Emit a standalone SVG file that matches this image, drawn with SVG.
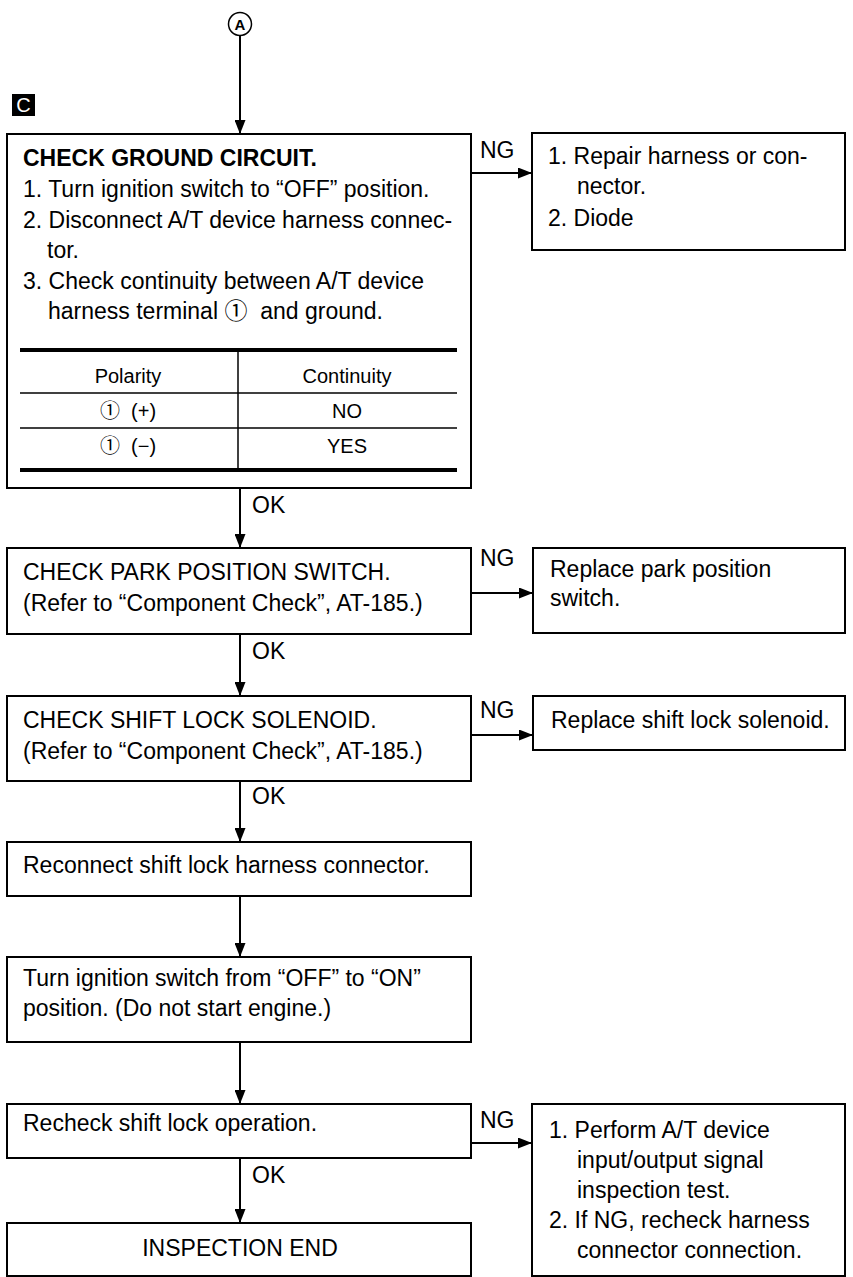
<svg xmlns="http://www.w3.org/2000/svg" width="853" height="1277" viewBox="0 0 853 1277">
<defs>
<style>
.box{fill:#fff;stroke:#000;stroke-width:2}
.t{font-family:"Liberation Sans","Noto Sans CJK JP",Arial,sans-serif;font-size:23px;fill:#000}
.b{font-weight:bold}
.tb{font-family:"Liberation Sans","Noto Sans CJK JP",Arial,sans-serif;font-size:20px;fill:#000}
.c{text-anchor:middle}
.ln{stroke:#000;stroke-width:2;fill:none}
.thick{stroke:#000;stroke-width:4}
.thin{stroke:#000;stroke-width:1.5}
</style>
<marker id="ah" viewBox="0 0 14 11" refX="14" refY="5.5" markerWidth="14" markerHeight="11" markerUnits="userSpaceOnUse" orient="auto">
<path d="M0,0 L14,5.5 L0,11 Z" fill="#000"/>
</marker>
</defs>
<rect width="853" height="1277" fill="#fff"/>

<g id="start">
<circle cx="240" cy="24" r="11.5" fill="#fff" stroke="#000" stroke-width="1.5"/>
<text x="240" y="30" class="t b c" style="font-size:15px">A</text>
</g>

<g id="label-c">
<rect x="12" y="94" width="23" height="22" fill="#000"/>
<text x="23.5" y="112" class="t c" style="font-size:20px;fill:#fff">C</text>
</g>

<g id="connectors">
<line x1="240" y1="36" x2="240" y2="134" class="ln" marker-end="url(#ah)"/>
<line x1="471" y1="173" x2="532" y2="173" class="ln" marker-end="url(#ah)"/>
<text x="480" y="158" class="t">NG</text>
<line x1="240" y1="488" x2="240" y2="548" class="ln" marker-end="url(#ah)"/>
<text x="252" y="513" class="t">OK</text>
<line x1="471" y1="593" x2="533" y2="593" class="ln" marker-end="url(#ah)"/>
<text x="480" y="566" class="t">NG</text>
<line x1="240" y1="634" x2="240" y2="696" class="ln" marker-end="url(#ah)"/>
<text x="252" y="659" class="t">OK</text>
<line x1="471" y1="735" x2="533" y2="735" class="ln" marker-end="url(#ah)"/>
<text x="480" y="718" class="t">NG</text>
<line x1="240" y1="781" x2="240" y2="842" class="ln" marker-end="url(#ah)"/>
<text x="252" y="804" class="t">OK</text>
<line x1="240" y1="896" x2="240" y2="957" class="ln" marker-end="url(#ah)"/>
<line x1="240" y1="1042" x2="240" y2="1104" class="ln" marker-end="url(#ah)"/>
<line x1="471" y1="1143" x2="532" y2="1143" class="ln" marker-end="url(#ah)"/>
<text x="480" y="1128" class="t">NG</text>
<line x1="240" y1="1158" x2="240" y2="1223" class="ln" marker-end="url(#ah)"/>
<text x="252" y="1183" class="t">OK</text>
</g>

<g id="check-ground">
<rect x="7" y="134" width="464" height="354" class="box"/>
<text x="23" y="166" class="t b">CHECK GROUND CIRCUIT.</text>
<text x="23" y="197" class="t">1. Turn ignition switch to “OFF” position.</text>
<text x="23" y="228" class="t">2. Disconnect A/T device harness connec-</text>
<text x="47" y="258" class="t">tor.</text>
<text x="23" y="289" class="t">3. Check continuity between A/T device</text>
<text x="48" y="319" class="t" xml:space="preserve">harness terminal ①  and ground.</text>
<line x1="20" y1="350" x2="457" y2="350" class="thick"/>
<line x1="20" y1="393" x2="457" y2="393" class="thin"/>
<line x1="20" y1="428" x2="457" y2="428" class="thin"/>
<line x1="20" y1="470" x2="457" y2="470" class="thick"/>
<line x1="238" y1="350" x2="238" y2="470" class="thin"/>
<text x="128" y="383" class="tb c">Polarity</text>
<text x="347" y="383" class="tb c">Continuity</text>
<text x="128" y="418" class="tb c" xml:space="preserve">①  (+)</text>
<text x="347" y="418" class="tb c">NO</text>
<text x="128" y="453" class="tb c" xml:space="preserve">①  (−)</text>
<text x="347" y="453" class="tb c">YES</text>
</g>

<g id="repair-harness">
<rect x="532" y="133" width="313" height="117" class="box"/>
<text x="548" y="164" class="t">1. Repair harness or con-</text>
<text x="577" y="194" class="t">nector.</text>
<text x="548" y="226" class="t">2. Diode</text>
</g>

<g id="check-park">
<rect x="7" y="548" width="464" height="86" class="box"/>
<text x="23" y="580" class="t">CHECK PARK POSITION SWITCH.</text>
<text x="23" y="611" class="t">(Refer to “Component Check”, AT-185.)</text>
</g>

<g id="replace-park">
<rect x="533" y="548" width="312" height="85" class="box"/>
<text x="550" y="577" class="t">Replace park position</text>
<text x="550" y="606" class="t">switch.</text>
</g>

<g id="check-solenoid">
<rect x="7" y="696" width="464" height="85" class="box"/>
<text x="23" y="728" class="t">CHECK SHIFT LOCK SOLENOID.</text>
<text x="23" y="759" class="t">(Refer to “Component Check”, AT-185.)</text>
</g>

<g id="replace-solenoid">
<rect x="533" y="696" width="312" height="54" class="box"/>
<text x="551" y="728" class="t">Replace shift lock solenoid.</text>
</g>

<g id="reconnect">
<rect x="7" y="842" width="464" height="54" class="box"/>
<text x="23" y="873" class="t">Reconnect shift lock harness connector.</text>
</g>

<g id="turn-ignition">
<rect x="7" y="957" width="464" height="85" class="box"/>
<text x="23" y="986" class="t">Turn ignition switch from “OFF” to “ON”</text>
<text x="23" y="1016" class="t">position. (Do not start engine.)</text>
</g>

<g id="recheck">
<rect x="7" y="1104" width="464" height="54" class="box"/>
<text x="23" y="1131" class="t">Recheck shift lock operation.</text>
</g>

<g id="perform-test">
<rect x="532" y="1104" width="313" height="172" class="box"/>
<text x="549" y="1138" class="t">1. Perform A/T device</text>
<text x="577" y="1168" class="t">input/output signal</text>
<text x="577" y="1198" class="t">inspection test.</text>
<text x="549" y="1228" class="t">2. If NG, recheck harness</text>
<text x="577" y="1258" class="t">connector connection.</text>
</g>

<g id="inspection-end">
<rect x="7" y="1223" width="464" height="53" class="box"/>
<text x="240" y="1256" class="t c">INSPECTION END</text>
</g>
</svg>
